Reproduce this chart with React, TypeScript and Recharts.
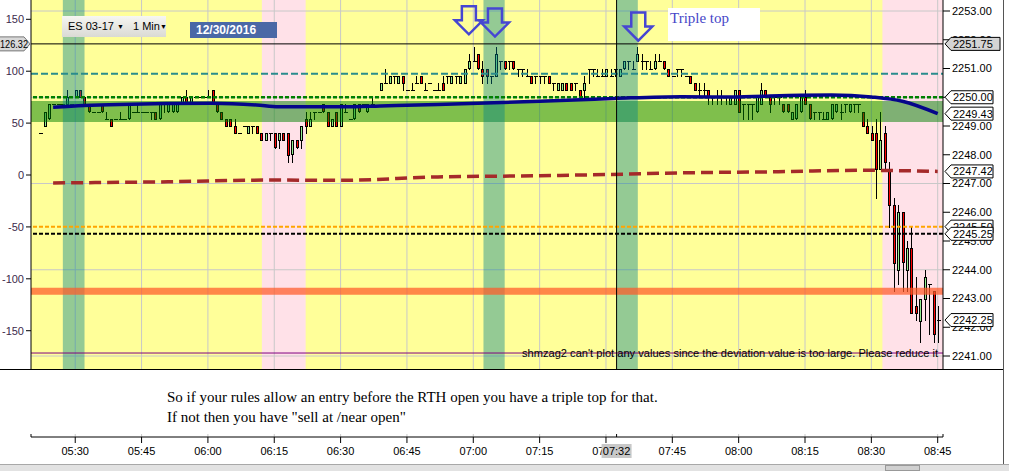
import React from "react";
import {
  ComposedChart,
  Bar,
  Line,
  XAxis,
  YAxis,
  ReferenceArea,
  ReferenceLine,
  ReferenceDot,
} from "recharts";

// ES 03-17, 1 min bars, 12/30/2016. x = minutes after 05:20
const timeLabels = ["05:30", "05:45", "06:00", "06:15", "06:30", "06:45", "07:00", "07:15", "07:30", "07:45", "08:00", "08:15", "08:30", "08:45"];
const tickMinutes = [10, 25, 40, 55, 70, 85, 100, 115, 130, 145, 160, 175, 190, 205];
const priceTicks = [2241, 2242, 2243, 2244, 2245, 2246, 2247, 2248, 2249, 2250, 2251, 2252, 2253];
const oscTicks = [150, 100, 50, 0, -50, -100, -150];
const gridPrices = [2241, 2244, 2247, 2250, 2253];

const firstBarMinute = 2;

// [open, high, low, close]
const bars: number[][] = [
  [2248.75, 2248.75, 2248.75, 2248.75], [2249.0, 2249.5, 2249.0, 2249.5], [2249.25, 2249.75, 2249.25, 2249.75], [2249.75, 2249.75, 2249.75, 2249.75], [2249.75, 2249.75, 2249.75, 2249.75],
  [2249.75, 2249.75, 2249.75, 2249.75], [2249.75, 2250.25, 2249.75, 2250.0], [2249.75, 2249.75, 2249.75, 2249.75], [2250.0, 2250.25, 2250.0, 2250.25], [2250.25, 2250.25, 2250.0, 2250.0],
  // 10
  [2250.0, 2250.0, 2249.75, 2249.75], [2249.75, 2249.75, 2249.5, 2249.5], [2249.5, 2249.5, 2249.5, 2249.5], [2249.5, 2249.5, 2249.5, 2249.5], [2249.75, 2249.75, 2249.5, 2249.5],
  [2249.25, 2249.5, 2249.25, 2249.25], [2249.25, 2249.25, 2249.0, 2249.0], [2249.25, 2249.25, 2249.25, 2249.25], [2249.25, 2249.5, 2249.25, 2249.25], [2249.25, 2249.25, 2249.25, 2249.25],
  // 20
  [2249.25, 2249.75, 2249.25, 2249.75], [2249.5, 2249.5, 2249.5, 2249.5], [2249.5, 2249.75, 2249.5, 2249.5], [2249.5, 2249.5, 2249.5, 2249.5], [2249.5, 2249.5, 2249.5, 2249.5],
  [2249.5, 2249.5, 2249.25, 2249.5], [2249.5, 2249.5, 2249.25, 2249.25], [2249.25, 2249.75, 2249.25, 2249.75], [2249.75, 2249.75, 2249.5, 2249.75], [2249.5, 2249.75, 2249.5, 2249.75],
  // 30
  [2249.5, 2249.75, 2249.5, 2249.75], [2249.5, 2249.75, 2249.5, 2249.75], [2249.75, 2250.0, 2249.75, 2250.0], [2250.0, 2250.25, 2249.75, 2249.75], [2249.75, 2250.0, 2249.75, 2250.0],
  [2250.0, 2250.0, 2250.0, 2250.0], [2250.0, 2250.0, 2250.0, 2250.0], [2250.0, 2250.0, 2250.0, 2250.0], [2250.0, 2250.25, 2250.0, 2250.0], [2250.25, 2250.25, 2249.75, 2249.75],
  // 40
  [2249.75, 2249.75, 2249.5, 2249.5], [2249.5, 2249.5, 2249.25, 2249.25], [2249.25, 2249.25, 2249.0, 2249.0], [2249.25, 2249.25, 2249.0, 2249.0], [2249.0, 2249.25, 2248.75, 2248.75],
  [2248.75, 2248.75, 2248.75, 2248.75], [2249.0, 2249.0, 2249.0, 2249.0], [2248.75, 2249.0, 2248.75, 2249.0], [2249.0, 2249.0, 2248.75, 2249.0], [2249.0, 2249.0, 2248.75, 2248.75],
  // 50
  [2248.75, 2248.75, 2248.5, 2248.5], [2248.5, 2248.75, 2248.5, 2248.75], [2248.75, 2248.75, 2248.5, 2248.75], [2248.75, 2248.75, 2248.25, 2248.25], [2248.5, 2248.75, 2248.25, 2248.75],
  [2248.75, 2248.75, 2248.5, 2248.5], [2248.75, 2248.75, 2247.75, 2248.0], [2248.0, 2248.5, 2247.75, 2248.5], [2248.5, 2248.5, 2248.25, 2248.25], [2248.5, 2249.0, 2248.25, 2249.0],
  // 60
  [2249.25, 2249.5, 2248.75, 2249.0], [2249.0, 2249.5, 2249.0, 2249.25], [2249.5, 2249.5, 2249.25, 2249.5], [2249.5, 2249.5, 2249.5, 2249.5], [2249.75, 2249.75, 2249.5, 2249.5],
  [2249.5, 2249.5, 2249.0, 2249.0], [2249.0, 2249.25, 2249.0, 2249.25], [2249.5, 2249.5, 2249.0, 2249.0], [2249.0, 2249.75, 2249.0, 2249.75], [2249.5, 2249.75, 2249.5, 2249.5],
  // 70
  [2249.25, 2249.25, 2249.25, 2249.25], [2249.25, 2249.75, 2249.25, 2249.75], [2249.75, 2249.75, 2249.5, 2249.5], [2249.75, 2249.75, 2249.75, 2249.75], [2249.5, 2249.75, 2249.5, 2249.75],
  [2249.75, 2250.0, 2249.75, 2249.75], [2250.0, 2250.0, 2250.0, 2250.0], [2250.25, 2250.5, 2250.25, 2250.5], [2250.5, 2251.0, 2250.5, 2250.5], [2250.5, 2250.75, 2250.5, 2250.75],
  // 80
  [2250.75, 2250.75, 2250.5, 2250.75], [2250.5, 2250.75, 2250.5, 2250.75], [2250.75, 2250.75, 2250.25, 2250.5], [2250.25, 2250.25, 2250.25, 2250.25], [2250.25, 2250.5, 2250.25, 2250.25],
  [2250.5, 2250.75, 2250.5, 2250.5], [2250.75, 2250.75, 2250.5, 2250.5], [2250.25, 2250.5, 2250.25, 2250.25], [2250.5, 2250.5, 2250.5, 2250.5], [2250.25, 2250.25, 2250.25, 2250.25],
  // 90
  [2250.25, 2250.5, 2250.25, 2250.25], [2250.5, 2250.75, 2250.25, 2250.25], [2250.75, 2250.75, 2250.5, 2250.75], [2250.5, 2250.75, 2250.5, 2250.75], [2250.75, 2250.75, 2250.5, 2250.75],
  [2250.5, 2250.75, 2250.5, 2250.75], [2250.5, 2251.0, 2250.5, 2251.0], [2251.0, 2251.5, 2251.0, 2251.25], [2251.25, 2251.75, 2251.25, 2251.25], [2251.5, 2251.5, 2251.0, 2251.0],
  // 100
  [2251.0, 2251.25, 2250.5, 2250.75], [2251.0, 2251.0, 2250.5, 2250.75], [2250.75, 2250.75, 2250.5, 2250.75], [2250.75, 2251.75, 2250.75, 2251.5], [2251.25, 2251.25, 2251.0, 2251.25],
  [2251.25, 2251.25, 2251.0, 2251.0], [2251.25, 2251.25, 2251.0, 2251.25], [2251.25, 2251.25, 2251.0, 2251.0], [2251.0, 2251.0, 2250.75, 2251.0], [2251.0, 2251.0, 2250.75, 2251.0],
  // 110
  [2250.75, 2251.0, 2250.75, 2250.75], [2250.75, 2250.75, 2250.5, 2250.5], [2250.75, 2250.75, 2250.5, 2250.75], [2250.75, 2250.75, 2250.5, 2250.75], [2250.75, 2250.75, 2250.5, 2250.75],
  [2250.75, 2250.75, 2250.5, 2250.5], [2250.5, 2250.5, 2250.25, 2250.5], [2250.25, 2250.5, 2250.25, 2250.5], [2250.25, 2250.5, 2250.25, 2250.5], [2250.5, 2250.5, 2250.25, 2250.25],
  // 120
  [2250.5, 2250.5, 2250.25, 2250.25], [2250.5, 2250.5, 2250.25, 2250.5], [2250.25, 2250.25, 2250.0, 2250.0], [2250.25, 2250.75, 2250.0, 2250.5], [2251.0, 2251.0, 2250.5, 2251.0],
  [2251.0, 2251.0, 2250.75, 2251.0], [2250.75, 2251.0, 2250.75, 2250.75], [2250.75, 2251.0, 2250.75, 2250.75], [2250.75, 2251.0, 2250.75, 2251.0], [2250.75, 2251.0, 2250.75, 2250.75],
  // 130
  [2251.0, 2251.0, 2250.75, 2251.0], [2250.75, 2251.0, 2250.75, 2251.0], [2251.0, 2251.25, 2251.0, 2251.25], [2251.25, 2251.25, 2251.0, 2251.25], [2251.0, 2251.25, 2251.0, 2251.0],
  [2251.25, 2251.75, 2251.25, 2251.5], [2251.25, 2251.5, 2251.0, 2251.25], [2251.25, 2251.25, 2251.0, 2251.25], [2251.0, 2251.25, 2251.0, 2251.0], [2251.0, 2251.5, 2251.0, 2251.25],
  // 140
  [2251.25, 2251.5, 2251.25, 2251.25], [2251.25, 2251.25, 2251.0, 2251.0], [2251.0, 2251.0, 2250.75, 2250.75], [2250.75, 2250.75, 2250.75, 2250.75], [2251.0, 2251.0, 2250.75, 2251.0],
  [2251.0, 2251.0, 2250.75, 2251.0], [2250.75, 2250.75, 2250.75, 2250.75], [2250.75, 2250.75, 2250.5, 2250.5], [2250.5, 2250.5, 2250.25, 2250.25], [2250.25, 2250.5, 2250.0, 2250.25],
  // 150
  [2250.25, 2250.5, 2250.0, 2250.25], [2250.25, 2250.25, 2249.75, 2250.0], [2250.0, 2250.0, 2249.75, 2250.0], [2250.0, 2250.25, 2249.75, 2250.0], [2250.0, 2250.25, 2249.75, 2250.0],
  [2250.0, 2250.0, 2249.75, 2250.0], [2249.75, 2250.0, 2249.75, 2250.0], [2249.75, 2250.25, 2249.75, 2250.25], [2250.25, 2250.25, 2249.5, 2249.5], [2249.75, 2249.75, 2249.25, 2249.75],
  // 160
  [2249.75, 2249.75, 2249.25, 2249.75], [2249.75, 2249.75, 2249.25, 2249.75], [2249.5, 2250.0, 2249.5, 2250.0], [2249.75, 2250.5, 2249.75, 2250.25], [2250.25, 2250.25, 2250.0, 2250.0],
  [2250.0, 2250.0, 2249.5, 2249.75], [2250.0, 2250.0, 2249.75, 2250.0], [2250.0, 2250.0, 2249.75, 2250.0], [2249.75, 2249.75, 2249.5, 2249.5], [2249.75, 2249.75, 2249.5, 2249.5],
  // 170
  [2249.25, 2249.5, 2249.25, 2249.5], [2249.25, 2249.75, 2249.25, 2249.75], [2249.5, 2250.0, 2249.5, 2250.0], [2250.0, 2250.25, 2249.75, 2249.75], [2249.75, 2249.75, 2249.25, 2249.25],
  [2249.5, 2249.5, 2249.25, 2249.5], [2249.5, 2249.5, 2249.25, 2249.5], [2249.25, 2249.5, 2249.25, 2249.25], [2249.25, 2249.5, 2249.25, 2249.5], [2249.25, 2249.75, 2249.25, 2249.75],
  // 180
  [2249.5, 2249.75, 2249.5, 2249.75], [2249.5, 2249.75, 2249.25, 2249.5], [2249.75, 2249.75, 2249.5, 2249.75], [2249.5, 2249.75, 2249.5, 2249.75], [2249.75, 2249.75, 2249.5, 2249.75],
  [2249.75, 2249.75, 2249.5, 2249.75], [2249.5, 2249.5, 2249.0, 2249.0], [2249.0, 2249.25, 2248.75, 2248.75], [2248.75, 2249.0, 2248.5, 2248.5], [2248.75, 2249.25, 2246.5, 2247.5],
  // 190
  [2247.5, 2249.5, 2247.5, 2248.5], [2248.75, 2249.0, 2247.5, 2247.75], [2247.5, 2247.75, 2245.5, 2246.25], [2246.25, 2246.5, 2243.25, 2244.25], [2244.0, 2246.25, 2243.5, 2246.0],
  [2246.0, 2246.0, 2243.25, 2244.25], [2244.0, 2245.0, 2243.25, 2244.75], [2244.75, 2245.5, 2242.5, 2242.5], [2242.75, 2243.75, 2242.25, 2242.5], [2242.25, 2243.0, 2241.5, 2243.0],
  // 200
  [2243.0, 2244.0, 2242.25, 2243.75], [2243.5, 2243.5, 2241.75, 2243.5], [2243.25, 2243.25, 2241.5, 2241.75], [2242.25, 2242.75, 2241.5, 2242.25],
];

// [bar index, value]
const smaPoints = [
  [3, 2249.65], [10, 2249.71], [18, 2249.75], [39, 2249.79], [49, 2249.73], [54, 2249.67], [69, 2249.67], [77, 2249.7],
  [90, 2249.75], [113, 2249.86], [130, 2249.96], [145, 2250.02], [156, 2250.01], [172, 2250.07], [179, 2250.08],
  [188, 2250.01], [195, 2249.86], [203, 2249.43],
];
const slowPoints = [
  [3, 2247.02], [29, 2247.06], [52, 2247.12], [68, 2247.11], [90, 2247.23], [113, 2247.27], [136, 2247.34],
  [145, 2247.37], [167, 2247.41], [186, 2247.46], [203, 2247.42],
];

const greenBands = [[7.2, 12.1], [102.3, 107.1], [132.4, 137.2]];
const pinkBands = [[52.2, 62.1], [192.5, 206.2]];
const arrowTips = [[99.0, 2252.19], [104.9, 2252.11], [137.3, 2251.97]];

// right-axis price markers, drawn bottom to top
const tagPrices = [2250.0, 2249.43, 2247.42, 2245.5, 2245.25, 2242.25];
const tagTexts = ["2250.00", "2249.43", "2247.42", "2245.50", "2245.25", "2242.25"];

const xDomain = [0, 206.2];
const priceDomain = [2238.183, 2253.383];
const oscDomain = [-252.4, 168.6];
const panelFloor = 2240.55;
const crossMinute = 132.4;
const crossOsc = 126.32;

const rows = bars.map(([o, h, l, c], i) => ({
  m: firstBarMinute + i,
  range: [l, h],
  open: o,
  close: c,
  sma: null as number | null,
  slow: null as number | null,
}));
smaPoints.forEach(([i, v]) => (rows[i].sma = v));
slowPoints.forEach(([i, v]) => (rows[i].slow = v));

const SANS = '"Liberation Sans", Arial, sans-serif';
const SERIF = '"Liberation Serif", "Times New Roman", serif';

function Candle(props: any) {
  const { x, y, width, height, payload } = props;
  if (!payload || x == null || y == null) return null;
  const [low, high] = payload.range;
  const cx = Math.round(x + width / 2);
  const top = Math.min(y, y + height);
  const bot = Math.max(y, y + height);
  const span = high - low;
  const yOf = (p: number) => (span > 0 ? top + ((high - p) / span) * (bot - top) : top);
  const o = yOf(payload.open);
  const c = yOf(payload.close);
  const wick = (
    <line x1={cx + 0.5} x2={cx + 0.5} y1={Math.round(top)} y2={Math.round(bot) + 1} stroke="#000" strokeWidth={1} />
  );
  if (payload.open === payload.close) {
    const yy = Math.round(o) + 0.5;
    return (
      <g shapeRendering="crispEdges">
        {span > 0 && wick}
        <line x1={cx - 1} x2={cx + 3} y1={yy} y2={yy} stroke="#000" strokeWidth={1} />
      </g>
    );
  }
  const up = payload.close > payload.open;
  const bTop = Math.round(Math.min(o, c)) + 0.5;
  const bH = Math.max(1, Math.round(Math.abs(c - o)));
  return (
    <g shapeRendering="crispEdges">
      {wick}
      <rect x={cx - 0.5} y={bTop} width={2} height={bH} fill={up ? "#90ee90" : "#ff0000"} stroke="#000" strokeWidth={1} />
    </g>
  );
}

function PriceTag({ viewBox, text, fill = "#fff", wide = false }: any) {
  if (!viewBox) return null;
  const x0 = viewBox.x + viewBox.width;
  const y = viewBox.y;
  const left = x0 + 8;
  const right = x0 + (wide ? 57 : 50);
  const h = 6.5;
  return (
    <g>
      <polygon
        points={`${x0 + 2},${y} ${left},${y - h} ${right},${y - h} ${right},${y + h} ${left},${y + h}`}
        fill={fill}
        stroke="#000"
        strokeWidth={1}
      />
      <text x={left + 2} y={y + 4} fontSize={11} fontFamily={SANS} fill="#000">
        {text}
      </text>
    </g>
  );
}

function CrossTags({ viewBox }: any) {
  if (!viewBox) return null;
  const y = viewBox.y;
  const lx = viewBox.x;
  return (
    <g>
      <polygon points={`-2,${y - 7} ${lx - 7},${y - 7} ${lx - 1},${y} ${lx - 7},${y + 7} -2,${y + 7}`} fill="#d8d8d8" stroke="#777" />
      <text x={0} y={y + 4} fontSize={11} fontFamily={SANS} fill="#000" textLength={28} lengthAdjust="spacingAndGlyphs">
        126.32
      </text>
      <PriceTag viewBox={viewBox} text="2251.75" fill="#d4d4d4" wide />
    </g>
  );
}

function TimeTag({ viewBox }: any) {
  if (!viewBox) return null;
  const x = viewBox.x;
  const yb = viewBox.y + viewBox.height;
  return (
    <g>
      <rect x={x - 15} y={yb + 7} width={30} height={14} fill="#c8c8c8" />
      <text x={x} y={yb + 18} textAnchor="middle" fontSize={11} fontFamily={SANS} fill="#000">
        07:32
      </text>
    </g>
  );
}

function WarnText({ viewBox }: any) {
  if (!viewBox) return null;
  return (
    <text
      x={viewBox.x + viewBox.width - 421}
      y={viewBox.y + 4}
      fontSize={11}
      fontFamily={SANS}
      fill="#000"
      textLength={416}
      lengthAdjust="spacingAndGlyphs"
    >
      shmzag2 can't plot any values since the deviation value is too large. Please reduce it
    </text>
  );
}

function DownArrow({ cx, cy }: any) {
  if (cx == null || cy == null) return null;
  const pts = [
    [cx - 7, cy - 28], [cx + 7, cy - 28], [cx + 7, cy - 14], [cx + 14, cy - 14],
    [cx, cy], [cx - 14, cy - 14], [cx - 7, cy - 14],
  ]
    .map((p) => p.join(","))
    .join(" ");
  return <polygon points={pts} fill="none" stroke="#4646d2" strokeWidth={2.5} strokeLinejoin="miter" />;
}

export default function App() {
  const hidden = { tick: false as const, tickLine: false, axisLine: false };
  return (
    <div style={{ position: "absolute", left: 0, top: 0, width: 1009, height: 471, background: "#fff", overflow: "hidden", fontFamily: SANS }}>
      <div style={{ position: "absolute", left: 0, top: 0 }}>
        <ComposedChart width={1009} height={471} data={rows} margin={{ top: 0, right: 0, bottom: 0, left: 0 }}>
          <XAxis
            dataKey="m"
            type="number"
            domain={xDomain}
            ticks={tickMinutes}
            interval={0}
            allowDataOverflow
            tickFormatter={(v: number) => timeLabels[tickMinutes.indexOf(v)] ?? ""}
            height={34}
            tickSize={6}
            tickMargin={4}
            axisLine={{ stroke: "#000" }}
            tickLine={{ stroke: "#000" }}
            tick={{ fontSize: 11, fill: "#000", fontFamily: SANS }}
          />
          <YAxis
            yAxisId="osc"
            orientation="left"
            width={31}
            domain={oscDomain}
            ticks={oscTicks}
            interval={0}
            allowDataOverflow
            tickSize={5}
            tickMargin={2}
            axisLine={{ stroke: "#000" }}
            tickLine={{ stroke: "#000" }}
            tick={{ fontSize: 11, fill: "#3c2a4c", fontFamily: SANS }}
          />
          <YAxis
            yAxisId="price"
            orientation="right"
            width={66}
            domain={priceDomain}
            ticks={priceTicks}
            interval={0}
            allowDataOverflow
            tickFormatter={(v: number) => v.toFixed(2)}
            tickSize={7}
            tickMargin={2}
            axisLine={{ stroke: "#000" }}
            tickLine={{ stroke: "#000" }}
            tick={{ fontSize: 11, fill: "#000", fontFamily: SANS }}
          />

          {/* panel background */}
          <ReferenceArea yAxisId="price" y1={panelFloor} y2={priceDomain[1]} fill="#ffff99" fillOpacity={1} stroke="none" zIndex={10} ifOverflow="hidden" />
          {pinkBands.map(([a, b]) => (
            <ReferenceArea key={`p${a}`} yAxisId="price" x1={a} x2={b} y1={panelFloor} y2={priceDomain[1]} fill="#ffe1e8" fillOpacity={1} stroke="none" zIndex={20} ifOverflow="hidden" />
          ))}
          {gridPrices.map((p) => (
            <ReferenceLine key={`gy${p}`} yAxisId="price" y={p} stroke="#c8c8c8" strokeWidth={1} zIndex={30} />
          ))}
          {tickMinutes.map((m) => (
            <ReferenceLine key={`gx${m}`} yAxisId="price" x={m} stroke="#c8c8c8" strokeWidth={1} zIndex={30} />
          ))}

          <Bar yAxisId="price" dataKey="range" barSize={3} shape={<Candle />} isAnimationActive={false} zIndex={100} />

          <ReferenceArea yAxisId="osc" y1={51} y2={71.3} fill="#008000" fillOpacity={0.5} stroke="none" zIndex={110} />
          {greenBands.map(([a, b]) => (
            <ReferenceArea key={`g${a}`} yAxisId="price" x1={a} x2={b} y1={panelFloor} y2={priceDomain[1]} fill="#00808c" fillOpacity={0.42} stroke="none" zIndex={120} ifOverflow="hidden" />
          ))}

          <ReferenceLine yAxisId="osc" y={-112} stroke="#ff5a28" strokeOpacity={0.72} strokeWidth={7} zIndex={130} />
          <ReferenceLine yAxisId="osc" y={97.6} stroke="#2a8c8c" strokeWidth={2} strokeDasharray="7 3" zIndex={140} />
          <ReferenceLine yAxisId="osc" y={-171.5} stroke="#800080" strokeWidth={1} zIndex={140} label={(p: any) => <WarnText viewBox={p.viewBox} />} />
          <ReferenceLine yAxisId="price" y={2250} stroke="#008000" strokeWidth={2.5} strokeDasharray="4 2" zIndex={140} />
          <ReferenceLine yAxisId="price" y={2245.5} stroke="#ffa500" strokeWidth={2} strokeDasharray="4 2" zIndex={140} />
          <ReferenceLine yAxisId="price" y={2245.25} stroke="#000" strokeWidth={2} strokeDasharray="4 2" zIndex={140} />

          <Line yAxisId="price" dataKey="slow" type="monotone" stroke="#a52a2a" strokeWidth={3.5} strokeDasharray="12 6" dot={false} activeDot={false} connectNulls isAnimationActive={false} zIndex={150} />
          <Line yAxisId="price" dataKey="sma" type="monotone" stroke="#05058a" strokeWidth={3.5} dot={false} activeDot={false} connectNulls isAnimationActive={false} zIndex={150} />

          {/* crosshair lines */}
          <ReferenceLine yAxisId="osc" y={crossOsc} stroke="#000" strokeWidth={1} zIndex={160} />
          <ReferenceLine yAxisId="price" x={crossMinute} stroke="#000" strokeWidth={1} zIndex={160} />
        </ComposedChart>
      </div>

      {/* marker layer on top of the axes: same axes, no ticks */}
      <div style={{ position: "absolute", left: 0, top: 0 }}>
        <ComposedChart width={1009} height={471} data={rows} margin={{ top: 0, right: 0, bottom: 0, left: 0 }}>
          <XAxis dataKey="m" type="number" domain={xDomain} allowDataOverflow height={34} {...hidden} />
          <YAxis yAxisId="osc" orientation="left" width={31} domain={oscDomain} allowDataOverflow {...hidden} />
          <YAxis yAxisId="price" orientation="right" width={66} domain={priceDomain} allowDataOverflow {...hidden} />
          {tagPrices.map((p, i) => (
            <ReferenceLine
              key={`t${p}`}
              yAxisId="price"
              y={p}
              stroke="none"
              label={(lp: any) => <PriceTag viewBox={lp.viewBox} text={tagTexts[i]} />}
            />
          ))}
          <ReferenceLine yAxisId="osc" y={crossOsc} stroke="none" label={(lp: any) => <CrossTags viewBox={lp.viewBox} />} />
          <ReferenceLine yAxisId="price" x={crossMinute} stroke="none" label={(lp: any) => <TimeTag viewBox={lp.viewBox} />} />
          {arrowTips.map(([m, p]) => (
            <ReferenceDot key={`a${m}`} yAxisId="price" x={m} y={p} r={1} shape={(sp: any) => <DownArrow cx={sp.cx} cy={sp.cy} />} />
          ))}
        </ComposedChart>
      </div>

      {/* instrument selector */}
      <div
        style={{
          position: "absolute", left: 62, top: 16, width: 104, height: 21,
          background: "linear-gradient(#f6f6f2, #dadad4)", fontSize: 11, lineHeight: "21px", color: "#000",
          whiteSpace: "nowrap", overflow: "hidden",
        }}
      >
        <span style={{ position: "absolute", left: 6 }}>ES 03-17</span>
        <span style={{ position: "absolute", left: 55, fontSize: 7 }}>▼</span>
        <span style={{ position: "absolute", left: 71 }}>1 Min</span>
        <span style={{ position: "absolute", left: 98, fontSize: 7 }}>▼</span>
      </div>
      <div
        style={{
          position: "absolute", left: 190, top: 22, width: 87, height: 16, background: "#4a68a6",
          color: "#fff", fontWeight: "bold", fontSize: 12, lineHeight: "16px", paddingLeft: 6, boxSizing: "border-box",
        }}
      >
        12/30/2016
      </div>
      <div
        style={{
          position: "absolute", left: 668, top: 8, width: 92, height: 33, background: "#fff",
          color: "#4646c8", fontFamily: SERIF, fontSize: 15, lineHeight: "20px", paddingLeft: 2, boxSizing: "border-box",
        }}
      >
        Triple top
      </div>

      {/* comment box over the lower panel */}
      <div style={{ position: "absolute", left: 0, top: 369, width: 1004, height: 65, background: "#fff", borderTop: "1px solid #000", boxSizing: "border-box" }}>
        <div style={{ position: "absolute", left: 167, top: 17, fontFamily: SERIF, fontSize: 15, lineHeight: "20px", color: "#000", whiteSpace: "nowrap" }}>
          So if your rules allow an entry before the RTH open you have a triple top for that.
          <br />
          If not then you have "sell at /near open"
        </div>
      </div>

      <div style={{ position: "absolute", left: 1003, top: 0, width: 1, height: 464, background: "#555" }} />
      <div style={{ position: "absolute", left: 0, top: 464, width: 1009, height: 7, background: "#e2e2e2", borderTop: "1px solid #a8a8a8", boxSizing: "border-box" }}>
        <div style={{ position: "absolute", left: 885, top: 0, width: 35, height: 6, background: "#d0d0d0", border: "1px solid #999", boxSizing: "border-box" }} />
      </div>
    </div>
  );
}
